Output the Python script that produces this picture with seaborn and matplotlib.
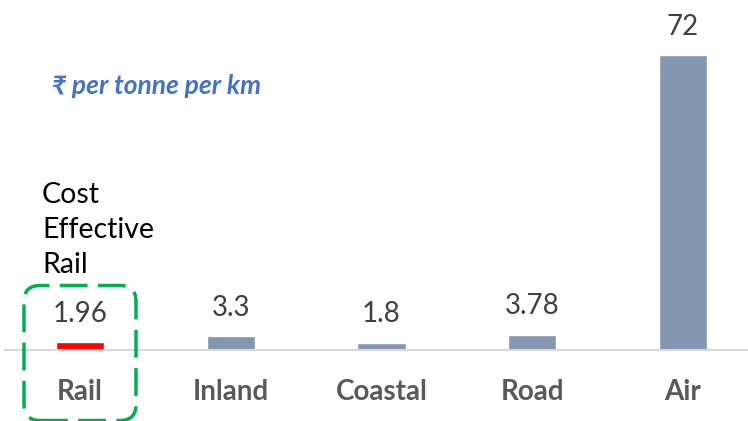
import matplotlib
matplotlib.use("Agg")
import matplotlib.pyplot as plt
from matplotlib.patches import FancyBboxPatch
from matplotlib.transforms import IdentityTransform
import seaborn as sns
import pandas as pd

modes = ["Rail", "Inland", "Coastal", "Road", "Air"]
costs = [1.96, 3.3, 1.8, 3.78, 72]
value_labels = ["1.96", "3.3", "1.8", "3.78", "72"]
bar_colors = ["#FF0000", "#8497B0", "#8497B0", "#8497B0", "#8497B0"]

sns.set_theme(style="white")
plt.rcParams["font.family"] = ["Lato", "DejaVu Sans"]

df = pd.DataFrame({"mode": modes, "cost": costs})

fig = plt.figure(figsize=(7.48, 4.21), dpi=100)
ax = fig.add_axes([5 / 748, 0.1686, 743 / 748, 0.8314])
sns.barplot(data=df, x="mode", y="cost", hue="mode", palette=bar_colors,
            width=0.32, legend=False, ax=ax, saturation=1)

ax.set_xlim(-0.4975, 4.431)
ax.set_ylim(0, 85.4)
ax.set_xlabel("")
ax.set_ylabel("")
ax.set_yticks([])
for s in ["top", "right", "left"]:
    ax.spines[s].set_visible(False)
ax.spines["bottom"].set_color("#D9D9D9")
ax.spines["bottom"].set_linewidth(1.5)
ax.tick_params(axis="x", length=0, pad=21, labelsize=20, labelcolor="#595959")
for t in ax.get_xticklabels():
    t.set_fontweight("bold")

for i, (v, lab) in enumerate(zip(costs, value_labels)):
    ax.annotate(lab, (i, v), xytext=(0, 11), textcoords="offset points",
                ha="center", va="bottom", fontsize=20, color="#404040")

fig.text(42 / 748, 1 - 230 / 421, "Cost\nEffective\nRail", ha="left", va="center",
         fontsize=20.5, color="black", linespacing=1.45)
fig.text(52 / 748, 1 - 86 / 421, "₹ per tonne per km", ha="left", va="center",
         fontsize=19, color="#4472C4", fontweight="bold", fontstyle="italic")

# green dashed highlight around the Rail column (pixel coords, origin bottom-left)
box = FancyBboxPatch((24, 0.5), 112, 135, boxstyle="round,pad=0,rounding_size=16",
                     fill=False, edgecolor="#00B050",
                     linewidth=2.5, linestyle=(0, (8, 3)))
box.set_transform(IdentityTransform())
fig.patches.append(box)

fig.savefig("out.png", dpi=100)
